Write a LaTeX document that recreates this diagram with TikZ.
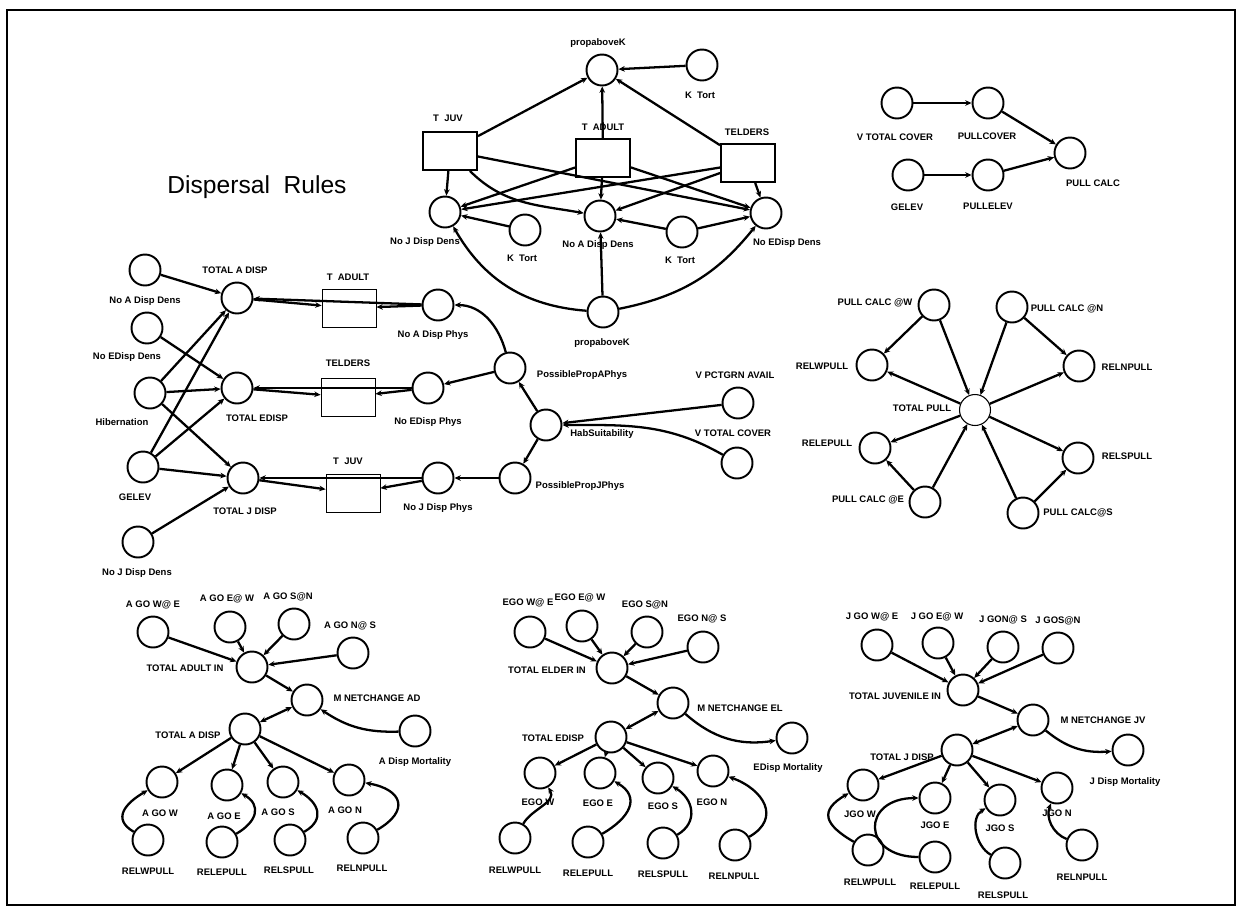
\documentclass[tikz,border=0pt]{standalone}
\usepackage{fontspec}
\setmainfont{Liberation Sans}
\usepackage{tikz}
\usetikzlibrary{shapes,arrows,arrows.meta}
\tikzstyle{invis} = [draw=none, inner sep=0pt, font=\fontsize{5.4}{7}\selectfont\bfseries]
\tikzstyle{var} = [draw, circle, line width=1.1pt, minimum size=0.62cm, inner sep=0pt]
\tikzstyle{stock} = [draw, rectangle, line width=1.1pt, minimum width=1.08cm, minimum height=0.76cm, inner sep=0pt]
\tikzstyle{stockthin} = [stock, line width=0.5pt]
\tikzstyle{heading} = [draw=none, font=\fontsize{14}{16}\selectfont]

\begin{document}
\begin{tikzpicture}[->,>={Stealth[length=3.6pt,width=3.2pt]},line width=1.3pt,x=0.02cm,y=0.02cm]

    \useasboundingbox (0,0) rectangle (1239,-923);
    \draw[-, line width=1.2pt] (7,-10) rectangle (1235,-905);

    \node[heading] at (257,-187) (title) [] {Dispersal\ \ Rules};

    %===================== density dispersal

    \node[var] at (602,-70) (tK0) [] {};
    \node[var] at (702,-65) (tKT) [] {};
    \node[stock] at (450,-151) (tJ) [] {};
    \node[stock] at (603,-158) (tA) [] {};
    \node[stock] at (748,-163) (tE) [] {};
    \node[var] at (445,-212) (tJD) [] {};
    \node[var] at (600,-216) (tAD) [] {};
    \node[var] at (766,-213) (tED) [] {};
    \node[var] at (525,-230) (tKT1) [] {};
    \node[var] at (682,-232) (tKT2) [] {};
    \node[var] at (603,-312) (tK1) [] {};

    \node[invis] at (598,-43) (ltK0) [] {propaboveK};
    \node[invis] at (700,-95) (ltKT) [] {K\ \ Tort};
    \node[invis] at (448,-118) (ltJ) [] {T\ \ JUV};
    \node[invis] at (603,-127) (ltA) [] {T\ \ ADULT};
    \node[invis] at (747,-132) (ltE) [] {TELDERS};
    \node[invis] at (425,-242) (ltJD) [] {No J Disp Dens};
    \node[invis] at (598,-245) (ltAD) [] {No A Disp Dens};
    \node[invis] at (787,-243) (ltED) [] {No EDisp Dens};
    \node[invis] at (522,-258) (ltKT1) [] {K\ \ Tort};
    \node[invis] at (680,-260) (ltKT2) [] {K\ \ Tort};
    \node[invis] at (602,-343) (ltK1) [] {propaboveK};

    \path
    (tKT) edge [] node {} (tK0)
    (tJ) edge [] node {} (tK0)
    (tA) edge [] node {} (tK0)
    (tE) edge [] node {} (tK0);

    \path
    (tJ) edge [] node {} (tJD)
    (tJ) edge [out=-45, in=170] node {} (tAD)
    (tJ) edge [] node {} (tED)
    (tA) edge [] node {} (tJD)
    (tA) edge [] node {} (tAD)
    (tA) edge [] node {} (tED)
    (tE) edge [] node {} (tJD)
    (tE) edge [] node {} (tAD)
    (tE) edge [] node {} (tED);

    \path
    (tKT1) edge [] node {} (tJD)
    (tKT2) edge [] node {} (tAD)
    (tKT2) edge [] node {} (tED)
    (tK1) edge [bend left=28] node {} (tJD)
    (tK1) edge [] node {} (tAD)
    (tK1) edge [bend right=20] node {} (tED);

    %===================== total dispersal

    \node[var] at (145,-270) (dAD) [] {};
    \node[var] at (147,-328) (dED) [] {};
    \node[var] at (150,-393) (dHb) [] {};
    \node[var] at (143,-467) (dGE) [] {};
    \node[var] at (138,-542) (dJD) [] {};
    \node[var] at (237,-298) (dTA) [] {};
    \node[var] at (237,-388) (dTE) [] {};
    \node[var] at (243,-478) (dTJ) [] {};
    \node[stockthin] at (349,-308) (dBA) [] {};
    \node[stockthin] at (348,-397) (dBE) [] {};
    \node[stockthin] at (353,-493) (dBJ) [] {};
    \node[var] at (438,-305) (dPA) [] {};
    \node[var] at (428,-388) (dPE) [] {};
    \node[var] at (438,-478) (dPJ) [] {};
    \node[var] at (510,-368) (dPPA) [] {};
    \node[var] at (546,-425) (dHS) [] {};
    \node[var] at (515,-478) (dPPJ) [] {};
    \node[var] at (738,-403) (dVP) [] {};
    \node[var] at (737,-463) (dVT) [] {};

    \node[invis] at (145,-301) (ldAD) [] {No A Disp Dens};
    \node[invis] at (127,-357) (ldED) [] {No EDisp Dens};
    \node[invis] at (122,-422) (ldHb) [] {Hibernation};
    \node[invis] at (135,-497) (ldGE) [] {GELEV};
    \node[invis] at (137,-573) (ldJD) [] {No J Disp Dens};
    \node[invis] at (235,-270) (ldTA) [] {TOTAL A DISP};
    \node[invis] at (257,-418) (ldTE) [] {TOTAL EDISP};
    \node[invis] at (245,-511) (ldTJ) [] {TOTAL J DISP};
    \node[invis] at (348,-277) (ldBA) [] {T\ \ ADULT};
    \node[invis] at (348,-363) (ldBE) [] {TELDERS};
    \node[invis] at (348,-461) (ldBJ) [] {T\ \ JUV};
    \node[invis] at (433,-335) (ldPA) [] {No A Disp Phys};
    \node[invis] at (428,-422) (ldPE) [] {No EDisp Phys};
    \node[invis] at (438,-508) (ldPJ) [] {No J Disp Phys};
    \node[invis] at (582,-375) (ldPPA) [] {PossiblePropAPhys};
    \node[invis] at (602,-434) (ldHS) [] {HabSuitability};
    \node[invis] at (580,-486) (ldPPJ) [] {PossiblePropJPhys};
    \node[invis] at (735,-375) (ldVP) [] {V PCTGRN AVAIL};
    \node[invis] at (733,-433) (ldVT) [] {V TOTAL COVER};

    \path
    (dAD) edge [] node {} (dTA)
    (dED) edge [] node {} (dTE)
    (dHb) edge [] node {} (dTA)
    (dHb) edge [] node {} (dTE)
    (dHb) edge [] node {} (dTJ)
    (dGE) edge [] node {} (dTA)
    (dGE) edge [] node {} (dTE)
    (dGE) edge [] node {} (dTJ)
    (dJD) edge [] node {} (dTJ);

    \path
    (dPA) edge [] node {} (dTA)
    (dTA) edge [] node {} (dBA)
    (dPA) edge [] node {} (dBA)
    (dPE) edge [] node {} (dTE)
    (dTE) edge [] node {} (dBE)
    (dPE) edge [] node {} (dBE)
    (dPJ) edge [] node {} (dTJ)
    (dTJ) edge [] node {} (dBJ)
    (dPJ) edge [] node {} (dBJ);

    \path
    (dPPA) edge [out=105, in=0] node {} (dPA)
    (dPPA) edge [] node {} (dPE)
    (dHS) edge [] node {} (dPPA)
    (dHS) edge [] node {} (dPPJ)
    (dPPJ) edge [] node {} (dPJ)
    (dVP) edge [] node {} (dHS)
    (dVT) edge [out=150, in=0] node {} (dHS);

    %===================== pull calc

    \node[var] at (897,-103) (rVT) [] {};
    \node[var] at (988,-103) (rPC) [] {};
    \node[var] at (908,-175) (rGE) [] {};
    \node[var] at (988,-175) (rPE) [] {};
    \node[var] at (1070,-153) (rCA) [] {};

    \node[invis] at (895,-137) (lrVT) [] {V TOTAL COVER};
    \node[invis] at (987,-136) (lrPC) [] {PULLCOVER};
    \node[invis] at (907,-207) (lrGE) [] {GELEV};
    \node[invis] at (988,-206) (lrPE) [] {PULLELEV};
    \node[invis] at (1093,-183) (lrCA) [] {PULL CALC};

    \path
    (rVT) edge [] node {} (rPC)
    (rPC) edge [] node {} (rCA)
    (rGE) edge [] node {} (rPE)
    (rPE) edge [] node {} (rCA);

    %===================== total pull

    \node[var] at (934,-305) (pCW) [] {};
    \node[var] at (1012,-307) (pCN) [] {};
    \node[var] at (872,-365) (pRW) [] {};
    \node[var] at (1079,-366) (pRN) [] {};
    \node[var, line width=0.6pt] at (975,-410) (pTP) [] {};
    \node[var] at (875,-448) (pRE) [] {};
    \node[var] at (1078,-458) (pRS) [] {};
    \node[var] at (925,-502) (pCE) [] {};
    \node[var] at (1023,-513) (pCS) [] {};

    \node[invis] at (875,-303) (lpCW) [] {PULL CALC @W};
    \node[invis] at (1067,-309) (lpCN) [] {PULL CALC @N};
    \node[invis] at (822,-366) (lpRW) [] {RELWPULL};
    \node[invis] at (1127,-367) (lpRN) [] {RELNPULL};
    \node[invis] at (922,-408) (lpTP) [] {TOTAL PULL};
    \node[invis] at (827,-443) (lpRE) [] {RELEPULL};
    \node[invis] at (1127,-456) (lpRS) [] {RELSPULL};
    \node[invis] at (868,-500) (lpCE) [] {PULL CALC @E};
    \node[invis] at (1078,-513) (lpCS) [] {PULL CALC@S};

    \path
    (pCW) edge [] node {} (pRW)
    (pCW) edge [] node {} (pTP)
    (pCN) edge [] node {} (pRN)
    (pCN) edge [] node {} (pTP)
    (pCE) edge [] node {} (pRE)
    (pCE) edge [] node {} (pTP)
    (pCS) edge [] node {} (pRS)
    (pCS) edge [] node {} (pTP)
    (pTP) edge [] node {} (pRW)
    (pTP) edge [] node {} (pRN)
    (pTP) edge [] node {} (pRE)
    (pTP) edge [] node {} (pRS);

    %===================== adults

    \node[var] at (153,-632) (aWE) [] {};
    \node[var] at (230,-627) (aEW) [] {};
    \node[var] at (294,-624) (aSN) [] {};
    \node[var] at (353,-653) (aNS) [] {};
    \node[var] at (252,-667) (aTI) [] {};
    \node[var] at (307,-700) (aMN) [] {};
    \node[var] at (245,-729) (aTD) [] {};
    \node[var] at (415,-731) (aMo) [] {};
    \node[var] at (162,-782) (aW) [] {};
    \node[var] at (227,-785) (aE) [] {};
    \node[var] at (283,-782) (aS) [] {};
    \node[var] at (349,-780) (aN) [] {};
    \node[var] at (148,-840) (aRW) [] {};
    \node[var] at (222,-842) (aRE) [] {};
    \node[var] at (290,-840) (aRS) [] {};
    \node[var] at (363,-838) (aRN) [] {};

    \node[invis] at (153,-605) (laWE) [] {A GO W@ E};
    \node[invis] at (227,-599) (laEW) [] {A GO E@ W};
    \node[invis] at (288,-597) (laSN) [] {A GO S@N};
    \node[invis] at (350,-626) (laNS) [] {A GO N@ S};
    \node[invis] at (185,-668) (laTI) [] {TOTAL ADULT IN};
    \node[invis] at (377,-698) (laMN) [] {M NETCHANGE AD};
    \node[invis] at (188,-735) (laTD) [] {TOTAL A DISP};
    \node[invis] at (415,-762) (laMo) [] {A Disp Mortality};
    \node[invis] at (160,-813) (laW) [] {A GO W};
    \node[invis] at (224,-816) (laE) [] {A GO E};
    \node[invis] at (278,-812) (laS) [] {A GO S};
    \node[invis] at (345,-810) (laN) [] {A GO N};
    \node[invis] at (148,-871) (laRW) [] {RELWPULL};
    \node[invis] at (222,-872) (laRE) [] {RELEPULL};
    \node[invis] at (289,-870) (laRS) [] {RELSPULL};
    \node[invis] at (362,-868) (laRN) [] {RELNPULL};

    \path
    (aWE) edge [] node {} (aTI)
    (aEW) edge [] node {} (aTI)
    (aSN) edge [] node {} (aTI)
    (aNS) edge [] node {} (aTI)
    (aTI) edge [] node {} (aMN)
    (aTD) edge [<->] node {} (aMN)
    (aMo) edge [bend left=18] node {} (aMN)
    (aTD) edge [] node {} (aW)
    (aTD) edge [] node {} (aE)
    (aTD) edge [] node {} (aS)
    (aTD) edge [] node {} (aN)
    (aRW) edge [out=150, in=210, looseness=1.5] node {} (aW)
    (aRE) edge [out=30, in=-30, looseness=1.5] node {} (aE)
    (aRS) edge [out=30, in=-30, looseness=1.5] node {} (aS)
    (aRN) edge [out=30, in=-10, looseness=2] node {} (aN);

    %===================== elders

    \node[var] at (530,-632) (eWE) [] {};
    \node[var] at (582,-626) (eEW) [] {};
    \node[var] at (647,-632) (eSN) [] {};
    \node[var] at (703,-647) (eNS) [] {};
    \node[var] at (612,-668) (eTI) [] {};
    \node[var] at (673,-703) (eMN) [] {};
    \node[var] at (611,-737) (eTD) [] {};
    \node[var] at (792,-738) (eMo) [] {};
    \node[var] at (540,-773) (eW) [] {};
    \node[var] at (600,-773) (eE) [] {};
    \node[var] at (658,-778) (eS) [] {};
    \node[var] at (713,-771) (eN) [] {};
    \node[var] at (515,-838) (eRW) [] {};
    \node[var] at (588,-842) (eRE) [] {};
    \node[var] at (663,-843) (eRS) [] {};
    \node[var] at (735,-845) (eRN) [] {};

    \node[invis] at (528,-603) (leWE) [] {EGO W@ E};
    \node[invis] at (580,-598) (leEW) [] {EGO E@ W};
    \node[invis] at (645,-605) (leSN) [] {EGO S@N};
    \node[invis] at (702,-619) (leNS) [] {EGO N@ S};
    \node[invis] at (547,-670) (leTI) [] {TOTAL ELDER IN};
    \node[invis] at (740,-708) (leMN) [] {M NETCHANGE EL};
    \node[invis] at (553,-738) (leTD) [] {TOTAL EDISP};
    \node[invis] at (788,-768) (leMo) [] {EDisp Mortality};
    \node[invis] at (538,-802) (leW) [] {EGO W};
    \node[invis] at (598,-803) (leE) [] {EGO E};
    \node[invis] at (663,-806) (leS) [] {EGO S};
    \node[invis] at (712,-802) (leN) [] {EGO N};
    \node[invis] at (515,-870) (leRW) [] {RELWPULL};
    \node[invis] at (588,-873) (leRE) [] {RELEPULL};
    \node[invis] at (663,-874) (leRS) [] {RELSPULL};
    \node[invis] at (734,-876) (leRN) [] {RELNPULL};

    \path
    (eWE) edge [] node {} (eTI)
    (eEW) edge [] node {} (eTI)
    (eSN) edge [] node {} (eTI)
    (eNS) edge [] node {} (eTI)
    (eTI) edge [] node {} (eMN)
    (eTD) edge [<->] node {} (eMN)
    (eMo) edge [<-, bend left=25] node {} (eMN)
    (eTD) edge [] node {} (eW)
    (eTD) edge [] node {} (eE)
    (eTD) edge [] node {} (eS)
    (eTD) edge [] node {} (eN)
    (eRW) edge [out=60, in=-60] node {} (eW)
    (eRE) edge [out=30, in=-30, looseness=1.5] node {} (eE)
    (eRS) edge [out=30, in=-30, looseness=1.3] node {} (eS)
    (eRN) edge [out=30, in=-20, looseness=1.5] node {} (eN);

    %===================== juveniles

    \node[var] at (877,-645) (jWE) [] {};
    \node[var] at (938,-643) (jEW) [] {};
    \node[var] at (1003,-647) (jNS) [] {};
    \node[var] at (1058,-648) (jSN) [] {};
    \node[var] at (963,-690) (jTI) [] {};
    \node[var] at (1033,-720) (jMN) [] {};
    \node[var] at (957,-750) (jTD) [] {};
    \node[var] at (1128,-750) (jMo) [] {};
    \node[var] at (863,-785) (jW) [] {};
    \node[var] at (935,-798) (jE) [] {};
    \node[var] at (1000,-800) (jS) [] {};
    \node[var] at (1057,-788) (jN) [] {};
    \node[var] at (868,-850) (jRW) [] {};
    \node[var] at (935,-857) (jRE) [] {};
    \node[var] at (1005,-863) (jRS) [] {};
    \node[var] at (1082,-845) (jRN) [] {};

    \node[invis] at (872,-617) (ljWE) [] {J GO W@ E};
    \node[invis] at (937,-617) (ljEW) [] {J GO E@ W};
    \node[invis] at (1003,-620) (ljNS) [] {J GON@ S};
    \node[invis] at (1058,-621) (ljSN) [] {J GOS@N};
    \node[invis] at (895,-696) (ljTI) [] {TOTAL JUVENILE IN};
    \node[invis] at (1103,-720) (ljMN) [] {M NETCHANGE JV};
    \node[invis] at (902,-757) (ljTD) [] {TOTAL J DISP};
    \node[invis] at (1125,-782) (ljMo) [] {J Disp Mortality};
    \node[invis] at (860,-814) (ljW) [] {JGO W};
    \node[invis] at (935,-825) (ljE) [] {JGO E};
    \node[invis] at (1000,-828) (ljS) [] {JGO S};
    \node[invis] at (1057,-813) (ljN) [] {JGO N};
    \node[invis] at (870,-882) (ljRW) [] {RELWPULL};
    \node[invis] at (935,-886) (ljRE) [] {RELEPULL};
    \node[invis] at (1003,-895) (ljRS) [] {RELSPULL};
    \node[invis] at (1082,-877) (ljRN) [] {RELNPULL};

    \path
    (jWE) edge [] node {} (jTI)
    (jEW) edge [] node {} (jTI)
    (jNS) edge [] node {} (jTI)
    (jSN) edge [] node {} (jTI)
    (jTI) edge [] node {} (jMN)
    (jTD) edge [<->] node {} (jMN)
    (jMo) edge [<-, bend left=22] node {} (jMN)
    (jTD) edge [] node {} (jW)
    (jTD) edge [] node {} (jE)
    (jTD) edge [] node {} (jS)
    (jTD) edge [] node {} (jN)
    (jRW) edge [out=150, in=210, looseness=1.8] node {} (jW)
    (jRE) edge [out=180, in=180, looseness=2.5] node {} (jE)
    (jRS) edge [out=150, in=210] node {} (jS)
    (jRN) edge [bend left=45] node {} (jN);

\end{tikzpicture}
\end{document}
